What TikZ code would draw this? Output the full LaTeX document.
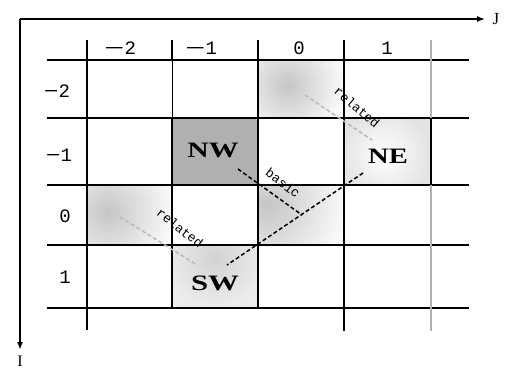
\documentclass[tikz,border=0pt]{standalone}
\usepackage{fontspec}
\setmainfont{Liberation Serif}
\newfontfamily\monof{Liberation Mono}
\usetikzlibrary{arrows.meta}
\tikzset{
  gridline/.style={line width=2pt,black},
  thinline/.style={line width=1pt,black},
  axisline/.style={line width=1.4pt,black,-{Latex[length=8pt,width=6pt]}},
  lbl/.style={font=\monof\fontsize{19}{19}\selectfont,inner sep=0pt},
  dirlbl/.style={font=\bfseries\fontsize{22}{22}\selectfont,inner sep=0pt},
  reltext/.style={font=\monof\fontsize{13}{13}\selectfont,inner sep=0pt},
  basicdash/.style={line width=1.5pt,black,dash pattern=on 4pt off 2.5pt},
  reldash/.style={line width=1.5pt,gray!55,dash pattern=on 4pt off 2.5pt},
}
\newcommand{\wideminus}[1]{\scalebox{#1}[1]{−}}
\begin{document}
\begin{tikzpicture}[x=1pt,y=-1pt]
\useasboundingbox (0,0) rectangle (507,370);
% shaded cells
\fill[gray!62] (172,118) rectangle (258,185);
\begin{scope}
\clip (258,60) rectangle (345,118);
\shade[inner color=gray!45,outer color=white] (288,85) circle (62);
\end{scope}
\begin{scope}
\clip (87,185) rectangle (172,245);
\shade[inner color=gray!45,outer color=white] (108,212) circle (72);
\end{scope}
\begin{scope}
\clip (258,185) rectangle (345,245);
\shade[inner color=gray!45,outer color=white] (268,205) circle (85);
\end{scope}
\begin{scope}
\clip (345,118) rectangle (431,185);
\fill[gray!22] (345,118) rectangle (431,185);
\shade[inner color=white,outer color=gray!22] (385,155) circle (45);
\end{scope}
\begin{scope}
\clip (172,245) rectangle (258,308);
\fill[gray!15] (172,245) rectangle (258,308);
\shade[inner color=gray!35,outer color=gray!15] (215,258) circle (50);
\end{scope}
% axes
\coordinate (o) at (20,19);
\coordinate (jend) at (485,19);
\coordinate (iend) at (20,350);
\draw[axisline] (o) -- (jend);
\draw[axisline,line width=2.4pt] (o) -- (iend);
\node[font=\fontsize{17}{17}\selectfont,inner sep=0pt] (J) at (496,19) {J};
\node[font=\fontsize{16}{16}\selectfont,inner sep=0pt] (I) at (20,361) {I};
% grid
\foreach \y in {60,118,185,245,308} \draw[gridline] (47,\y) -- (469,\y);
\draw[gridline] (87,40) -- (87,330);
\draw[gridline] (172,40) -- (172,60);
\draw[thinline] (172,60) -- (172,118);
\draw[gridline] (172,118) -- (172,309);
\draw[gridline] (258,40) -- (258,309);
\draw[gridline] (344,40) -- (344,331);
\draw[line width=1.6pt,gray!60] (431,40) -- (431,331);
\draw[gridline] (431,118) -- (431,185);
% column labels
\node[lbl] (c1) at (120,48) {\wideminus{1.8}2};
\node[lbl] (c2) at (201,48) {\wideminus{1.8}1};
\node[lbl] (c3) at (299,48) {0};
\node[lbl] (c4) at (387,48) {1};
% row labels
\node[lbl] (r1) at (57,91) {\wideminus{1.3}2};
\node[lbl] (r2) at (59,155) {\wideminus{1.3}1};
\node[lbl] (r3) at (65,216) {0};
\node[lbl] (r4) at (65,277) {1};
% direction labels
\node[dirlbl] (NW) at (213,150) {\scalebox{1.35}[1]{NW}};
\node[dirlbl] (NE) at (388,156) {\scalebox{1.3}[1]{NE}};
\node[dirlbl] (SW) at (215,283) {\scalebox{1.4}[1]{SW}};
% dashed lines
\coordinate (b1) at (363,173);
\coordinate (b2) at (227,265);
\coordinate (p1) at (238,169);
\coordinate (p2) at (302,215);
\draw[basicdash] (b1) -- (b2);
\draw[basicdash] (p1) -- (p2);
\coordinate (ra1) at (305,95);
\coordinate (ra2) at (372,140);
\coordinate (rb1) at (120,217);
\coordinate (rb2) at (197,265);
\draw[reldash] (ra1) -- (ra2);
\draw[reldash] (rb1) -- (rb2);
\node[reltext,rotate=-40] (rel1) at (357,107) {related};
\node[reltext,rotate=-38] (rel2) at (180,228) {related};
\node[reltext,rotate=-37] (basic) at (283,183) {basic};
\end{tikzpicture}
\end{document}
